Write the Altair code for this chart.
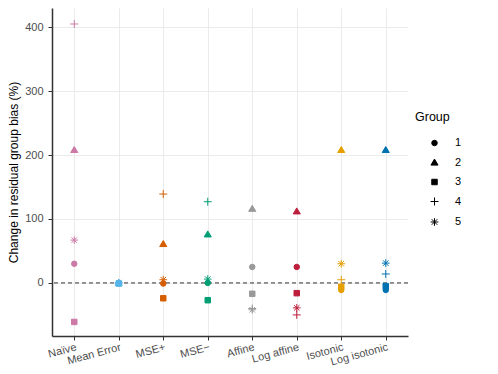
import altair as alt
import pandas as pd

methods = ["Naïve", "Mean Error", "MSE+", "MSE−", "Affine", "Log affine", "Isotonic", "Log isotonic"]
method_colors = ["#CC79A7", "#56B4E9", "#D55E00", "#009E73", "#999999", "#BE1E3C", "#E69F00", "#0072B2"]
groups = ["1", "2", "3", "4", "5"]

g1 = [30, 0, -1, 0, 25, 25, -11, -11]
g2 = [208, 0, 61, 76, 116, 112, 208, 208]
g3 = [-61, -1, -24, -27, -17, -16, -6, -5]
g4 = [405, 0, 139, 127, -40, -50, 5, 14]
g5 = [67, 0, 5, 6, -42, -39, 30, 31]

rows = []
for g, vals in zip(groups, [g1, g2, g3, g4, g5]):
    for m, v in zip(methods, vals):
        rows.append({"Method": m, "Group": g, "Value": v})
df = pd.DataFrame(rows)

tri = "M0,-1.25L1.3,0.95L-1.3,0.95Z"
plus = "M-1.45,0L1.45,0M0,-1.45L0,1.45"
star = "M-1.4,0L1.4,0M0,-1.4L0,1.4M-1,-1L1,1M-1,1L1,-1"
shape_range = ["circle", tri, "square", plus, star]

x_enc = alt.X("Method:N", sort=methods, scale=alt.Scale(domain=methods, paddingOuter=0.6),
              axis=alt.Axis(title=None, labelAngle=-15, labelAlign="right", labelBaseline="top",
                            grid=True, ticks=True, domain=True, labelPadding=1))

points = alt.Chart(df).mark_point(filled=True, strokeWidth=1, opacity=1, size=30).encode(
    x=x_enc,
    y=alt.Y("Value:Q", scale=alt.Scale(domain=[-83, 430], nice=False, zero=False),
            axis=alt.Axis(title="Change in residual group bias (%)", values=[0, 100, 200, 300, 400],
                          grid=True, titlePadding=4, labelPadding=5)),
    fill=alt.Fill("Method:N", scale=alt.Scale(domain=methods, range=method_colors), legend=None),
    stroke=alt.Stroke("Method:N", scale=alt.Scale(domain=methods, range=method_colors), legend=None),
    shape=alt.Shape("Group:N", scale=alt.Scale(domain=groups, range=shape_range),
                    legend=alt.Legend(title="Group", orient="none", legendX=363, legendY=103,
                                      symbolFillColor="black", symbolStrokeColor="black",
                                      symbolStrokeWidth=1, symbolSize=30, rowPadding=7.5,
                                      symbolOffset=14, labelOffset=15, titlePadding=14)),
)

zero = alt.Chart(pd.DataFrame({"y": [0]})).mark_rule(color="#333333", strokeDash=[4, 3], strokeWidth=1).encode(
    y="y:Q"
)

chart = alt.layer(zero, points).properties(
    width=356, height=328, padding={"top": 0, "left": -1, "right": 5, "bottom": 5}
).configure_view(stroke=None).configure_axis(
    gridColor="#EBEBEB", gridWidth=1, domainColor="#333333", domainWidth=1.5,
    tickColor="#333333", tickSize=4, labelColor="#4D4D4D", labelFont="Liberation Sans",
    labelFontSize=11, titleFont="Liberation Sans", titleFontSize=12, titleFontWeight="normal",
    titleColor="#000000", labelPadding=3
).configure_legend(
    titleFont="Liberation Sans", titleFontSize=12.5, titleFontWeight="normal", titleColor="#000000",
    labelFont="Liberation Sans", labelFontSize=11, labelColor="#000000"
)

chart.save("out.html", embed_options={"renderer": "svg", "actions": False})
